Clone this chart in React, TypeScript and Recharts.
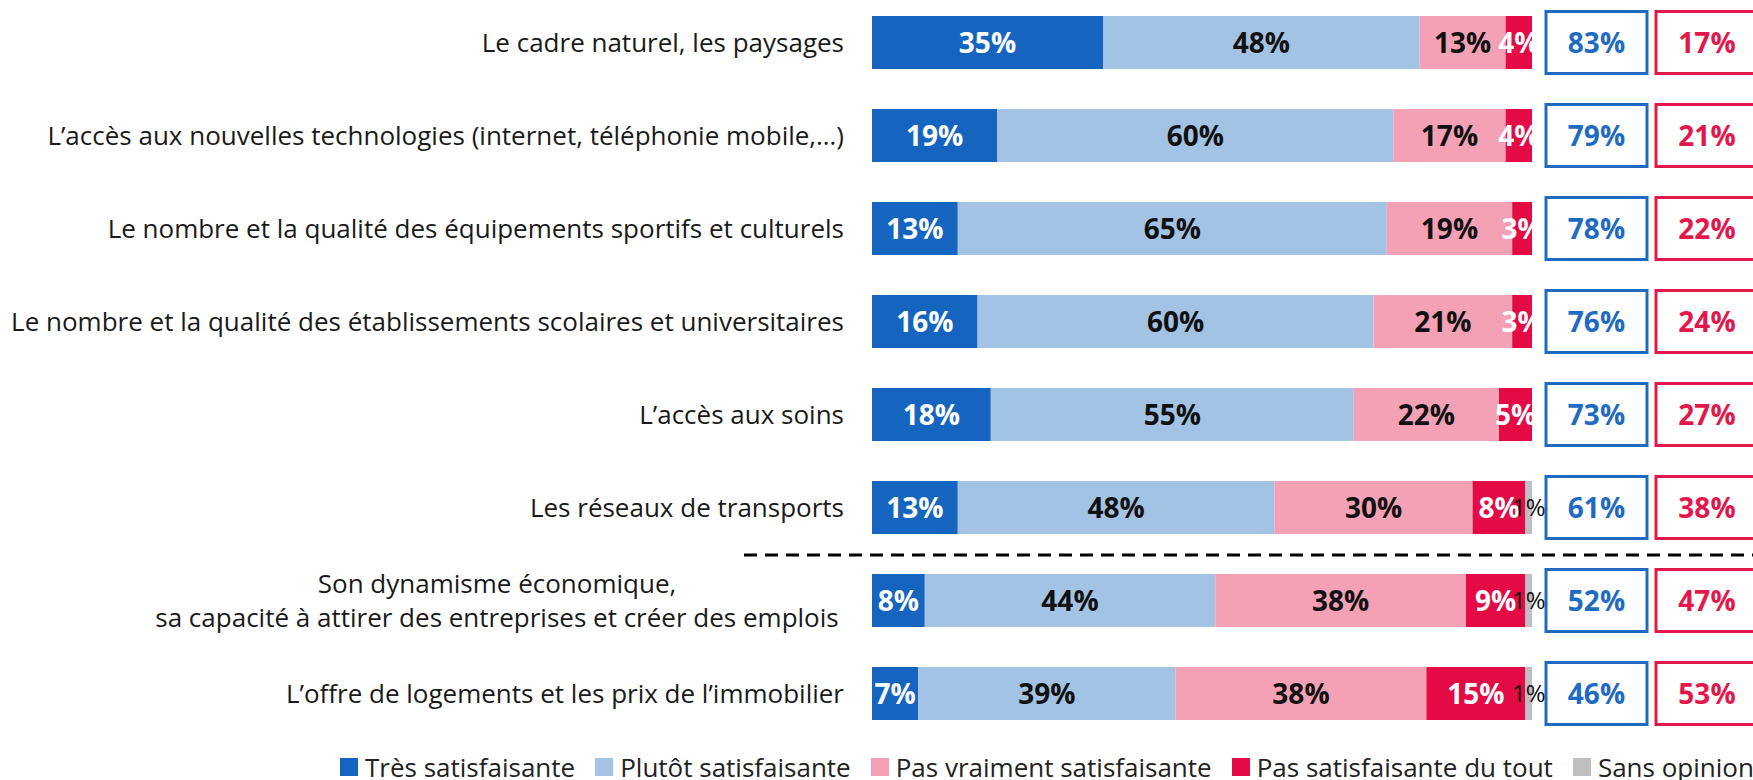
import { BarChart, Bar, XAxis, YAxis, Legend, LabelList } from "recharts";

const categories = [
  "Le cadre naturel, les paysages",
  "L’accès aux nouvelles technologies (internet, téléphonie mobile,…)",
  "Le nombre et la qualité des équipements sportifs et culturels",
  "Le nombre et la qualité des établissements scolaires et universitaires",
  "L’accès aux soins",
  "Les réseaux de transports",
  "Son dynamisme économique,\nsa capacité à attirer des entreprises et créer des emplois",
  "L’offre de logements et les prix de l’immobilier",
];

const tresSatisfaisante = [35, 19, 13, 16, 18, 13, 8, 7];
const plutotSatisfaisante = [48, 60, 65, 60, 55, 48, 44, 39];
const pasVraiment = [13, 17, 19, 21, 22, 30, 38, 38];
const pasDuTout = [4, 4, 3, 3, 5, 8, 9, 15];
const sansOpinion = [0, 0, 0, 0, 0, 1, 1, 1];
const totalSatisfait = [83, 79, 78, 76, 73, 61, 52, 46];
const totalPasSatisfait = [17, 21, 22, 24, 27, 38, 47, 53];

const seriesNames = [
  "Très satisfaisante",
  "Plutôt satisfaisante",
  "Pas vraiment satisfaisante",
  "Pas satisfaisante du tout",
  "Sans opinion",
];
const COLORS = ["#1565c0", "#a3c3e4", "#f4a0b5", "#e30a45", "#bfbfbf"];
const LABEL_COLORS = ["#ffffff", "#111111", "#111111", "#ffffff", "#111111"];
const KEYS = ["tres", "plutot", "pasVraiment", "pasDuTout", "sansOpinion"];

const data = categories.map((name, i) => ({
  name,
  tres: tresSatisfaisante[i],
  plutot: plutotSatisfaisante[i],
  pasVraiment: pasVraiment[i],
  pasDuTout: pasDuTout[i],
  sansOpinion: sansOpinion[i],
}));

const FONT = "'Open Sans', sans-serif";
const PLOT_RIGHT = 1532;
const BAND = 93;

function CategoryTick(props: any) {
  const { x, y, payload, index } = props;
  const lines = String(payload.value).split("\n");
  const boxX = PLOT_RIGHT + 14;
  return (
    <g>
      {lines.length === 1 ? (
        <text x={x} y={y} dy="0.36em" textAnchor="end" fontSize={26} fill="#1a1a1a" fontFamily={FONT}>
          {lines[0]}
        </text>
      ) : (
        lines.map((l, k) => (
          <text key={k} x={x - 347} y={y + (k === 0 ? -17 : 17)} dy="0.36em" textAnchor="middle" fontSize={26} fill="#1a1a1a" fontFamily={FONT}>
            {l}
          </text>
        ))
      )}
      {index === 6 && (
        <line x1={x - 100} x2={1760} y1={y - BAND / 2 + 1} y2={y - BAND / 2 + 1} stroke="#000" strokeWidth={3} strokeDasharray="13 8" />
      )}
      <rect x={boxX} y={y - 31} width={101} height={62} fill="#fff" stroke="#1f6bc1" strokeWidth={3} />
      <text x={boxX + 50.5} y={y} dy="0.36em" textAnchor="middle" fontSize={28} fontWeight={700} fill="#1f6bc1" fontFamily={FONT}>
        {totalSatisfait[index]}%
      </text>
      <rect x={boxX + 110} y={y - 31} width={102} height={62} fill="#fff" stroke="#e3174b" strokeWidth={3} />
      <text x={boxX + 161} y={y} dy="0.36em" textAnchor="middle" fontSize={28} fontWeight={700} fill="#e3174b" fontFamily={FONT}>
        {totalPasSatisfait[index]}%
      </text>
    </g>
  );
}

function makeLabel(color: string, small: boolean) {
  return (props: any) => {
    const { x, y, width, height, value } = props;
    if (!value) return null;
    return (
      <text
        x={x + width / 2}
        y={y + height / 2}
        dy="0.36em"
        textAnchor="middle"
        fontSize={small ? 24 : 28}
        fontWeight={small ? 400 : 700}
        fill={color}
        fontFamily={FONT}
      >
        {value}%
      </text>
    );
  };
}

function LegendContent() {
  return (
    <div style={{ display: "flex", alignItems: "center", fontFamily: FONT, fontSize: 26, lineHeight: "24px", color: "#222", whiteSpace: "nowrap" }}>
      {seriesNames.map((n, i) => (
        <div key={n} style={{ display: "flex", alignItems: "center", marginRight: 20 }}>
          <span style={{ display: "inline-block", width: 18, height: 18, background: COLORS[i], marginRight: 7 }} />
          <span>{n}</span>
        </div>
      ))}
    </div>
  );
}

export default function App() {
  return (
    <div style={{ position: "absolute", left: 0, top: 0, width: 1753, height: 780, overflow: "hidden", background: "#fff", fontFamily: FONT }}>
      <BarChart
        width={1753}
        height={780}
        data={data}
        layout="vertical"
        barSize={53}
        margin={{ top: -4, right: 1753 - PLOT_RIGHT, bottom: 40, left: 0 }}
      >
        <XAxis type="number" domain={[0, 100]} hide />
        <YAxis
          type="category"
          dataKey="name"
          width={872}
          axisLine={false}
          tickLine={false}
          tickSize={0}
          tickMargin={28}
          interval={0}
          tick={<CategoryTick />}
        />
        <Legend
          layout="horizontal"
          verticalAlign="middle"
          align="center"
          content={<LegendContent />}
          wrapperStyle={{ position: "absolute", top: 755, left: 340, width: 1420 }}
        />
        {KEYS.map((k, i) => (
          <Bar key={k} dataKey={k} stackId="a" fill={COLORS[i]} name={seriesNames[i]} isAnimationActive={false}>
            <LabelList dataKey={k} content={makeLabel(LABEL_COLORS[i], k === "sansOpinion")} />
          </Bar>
        ))}
      </BarChart>
    </div>
  );
}
